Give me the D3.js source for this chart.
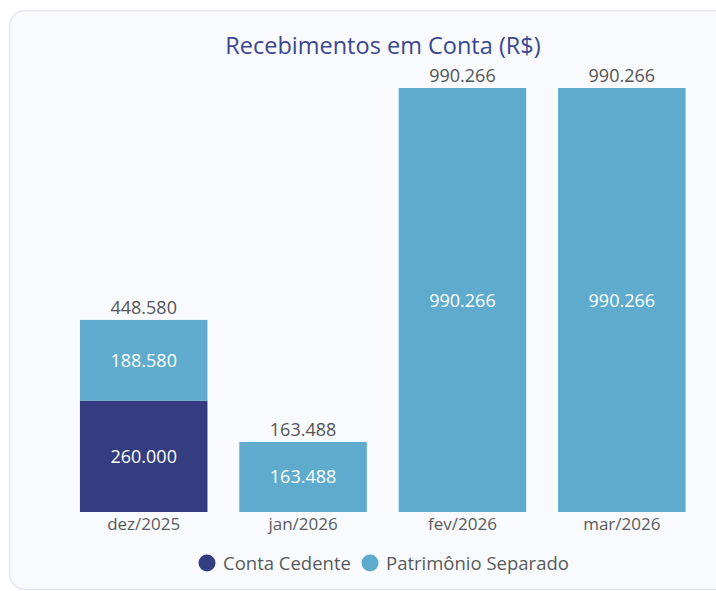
<!DOCTYPE html>
<html>
<head>
<meta charset="utf-8">
<script src="https://cdn.jsdelivr.net/npm/d3@7"></script>
<style>
  html, body { margin: 0; padding: 0; background: #ffffff; }
  svg { display: block; }
  text { font-family: "Open Sans", "Noto Sans", sans-serif; }
</style>
</head>
<body>
<svg id="chart" width="716" height="591"></svg>
<script>
const categories = ["dez/2025", "jan/2026", "fev/2026", "mar/2026"];
const seriesNames = ["Conta Cedente", "Patrimônio Separado"];
const contaCedente = [260000, 0, 0, 0];
const patrimonioSeparado = [188580, 163488, 990266, 990266];
const colors = ["#343d80", "#5eabcd"];

const svg = d3.select("#chart");

// card
svg.append("rect")
  .attr("x", 9.5).attr("y", 10.5)
  .attr("width", 760).attr("height", 579)
  .attr("rx", 16).attr("ry", 16)
  .attr("fill", "#f8fafe")
  .attr("stroke", "#e2e7f2").attr("stroke-width", 1.5);

// title
svg.append("text")
  .attr("x", 383).attr("y", 54)
  .attr("text-anchor", "middle")
  .attr("font-size", 23.5)
  .attr("fill", "#3b4790")
  .text("Recebimentos em Conta (R$)");

const data = categories.map((c, i) => ({
  cat: c, [seriesNames[0]]: contaCedente[i], [seriesNames[1]]: patrimonioSeparado[i]
}));
const stacked = d3.stack().keys(seriesNames)(data);
const totals = categories.map((c, i) => contaCedente[i] + patrimonioSeparado[i]);

const x = d3.scaleBand().domain(categories).range([64, 701.5]).paddingInner(0.2).paddingOuter(0.1);
const y = d3.scaleLinear().domain([0, d3.max(totals)]).range([512, 88]);

const fmt = v => d3.format(",")(v).replace(/,/g, ".");

stacked.forEach((layer, li) => {
  const g = svg.append("g");
  g.selectAll("rect").data(layer.filter(d => d[1] - d[0] > 0)).enter().append("rect")
    .attr("x", d => x(d.data.cat))
    .attr("y", d => y(d[1]))
    .attr("width", x.bandwidth())
    .attr("height", d => y(d[0]) - y(d[1]))
    .attr("fill", colors[li]);
  g.selectAll("text").data(layer.filter(d => d[1] - d[0] > 0)).enter().append("text")
    .attr("x", d => x(d.data.cat) + x.bandwidth() / 2)
    .attr("y", d => (y(d[0]) + y(d[1])) / 2 + 6.5)
    .attr("text-anchor", "middle")
    .attr("font-size", 18)
    .attr("fill", "#ffffff")
    .text(d => fmt(d[1] - d[0]));
});

// totals
svg.append("g").selectAll("text").data(categories).enter().append("text")
  .attr("x", d => x(d) + x.bandwidth() / 2)
  .attr("y", (d, i) => y(totals[i]) - 6)
  .attr("text-anchor", "middle")
  .attr("font-size", 18)
  .attr("fill", "#555555")
  .text((d, i) => fmt(totals[i]));

// x axis labels
const xAxis = d3.axisBottom(x).tickSize(0).tickPadding(6);
const ax = svg.append("g").attr("transform", "translate(0,512)").call(xAxis);
ax.select(".domain").remove();
ax.selectAll("text")
  .attr("font-size", 17)
  .attr("fill", "#5a5a5a")
  .style("font-family", "'Open Sans', 'Noto Sans', sans-serif");

// legend
const legend = svg.append("g");
const legendPos = [{cx: 207, tx: 223}, {cx: 370, tx: 386}];
seriesNames.forEach((s, i) => {
  legend.append("circle").attr("cx", legendPos[i].cx).attr("cy", 563).attr("r", 8.5).attr("fill", colors[i]);
  legend.append("text").attr("x", legendPos[i].tx).attr("y", 569.5)
    .attr("font-size", 18.5).attr("fill", "#5a5a5a").text(s);
});
</script>
</body>
</html>
